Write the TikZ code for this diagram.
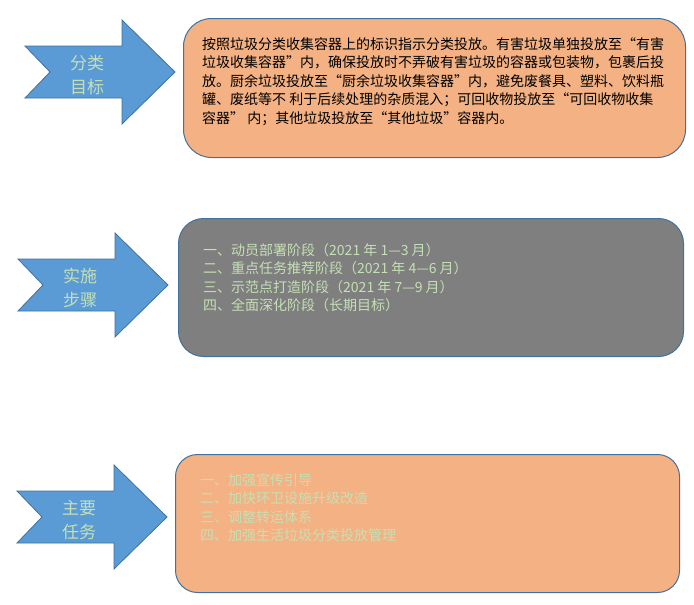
\documentclass[tikz,border=0pt]{standalone}
\usepackage{fontspec}
\usepackage{tikz}
\usetikzlibrary{positioning}
\newfontfamily\cjk{Noto Sans CJK SC}
\definecolor{arrowblue}{HTML}{5B9BD5}
\definecolor{edgeblue}{HTML}{41719C}
\definecolor{peach}{HTML}{F4B183}
\definecolor{slate}{HTML}{7F7F7F}
\definecolor{mint}{HTML}{C5E0B4}
\tikzset{
  board/.style={draw=edgeblue, line width=1pt, inner sep=0pt, anchor=north west},
  arrowtext/.style={text=mint, align=center, inner sep=0pt, font=\cjk\fontsize{17}{24}\selectfont},
  boardtext/.style={align=left, inner sep=0pt, font=\cjk\fontsize{14}{18.5}\selectfont}
}
\begin{document}
\begin{tikzpicture}[x=1pt, y=-1pt, font=\cjk]
  \useasboundingbox (0,0) rectangle (694,605);
  \foreach \x/\y/\t [count=\i] in {25/72/{分类\\目标}, 18/285/{实施\\步骤}, 17/517/{主要\\任务}} {
    \filldraw[fill=arrowblue, draw=edgeblue, line width=0.8pt] (\x,\y-26) -- ++(97,0) -- ++(0,-26) -- ++(53,52)
      -- ++(-53,52) -- ++(0,-26) -- ++(-97,0) -- ++(25,-26) -- cycle;
    \node[arrowtext] (arrow\i) at (\x+62,\y+3) {\t};
  }
  \node[board, fill=peach, rounded corners=28pt, minimum width=502pt, minimum height=139pt] (goal) at (183,18) {};
  \node[board, fill=slate, rounded corners=25pt, minimum width=505pt, minimum height=138pt] (steps) at (178,218) {};
  \node[board, fill=peach, rounded corners=22pt, minimum width=504pt, minimum height=138pt] (tasks) at (175,454) {};
  \node[boardtext, below right=19pt and 19pt of goal.north west] (goaltext) {按照垃圾分类收集容器上的标识指示分类投放。有害垃圾单独投放至“有害\\
    垃圾收集容器”内，确保投放时不弄破有害垃圾的容器或包装物，包裹后投\\
    放。厨余垃圾投放至“厨余垃圾收集容器”内，避免废餐具、塑料、饮料瓶\\
    罐、废纸等不 利于后续处理的杂质混入；可回收物投放至“可回收物收集\\
    容器” 内；其他垃圾投放至“其他垃圾”容器内。};
  \node[boardtext, text=mint, below right=25pt and 25pt of steps.north west] (stepstext) {一、动员部署阶段（2021 年 1—3 月）\\
    二、重点任务推荐阶段（2021 年 4—6 月）\\
    三、示范点打造阶段（2021 年 7—9 月）\\
    四、全面深化阶段（长期目标）};
  \node[boardtext, text=mint, below right=19pt and 25pt of tasks.north west] (taskstext) {一、加强宣传引导\\
    二、加快环卫设施升级改造\\
    三、调整转运体系\\
    四、加强生活垃圾分类投放管理};
\end{tikzpicture}
\end{document}
